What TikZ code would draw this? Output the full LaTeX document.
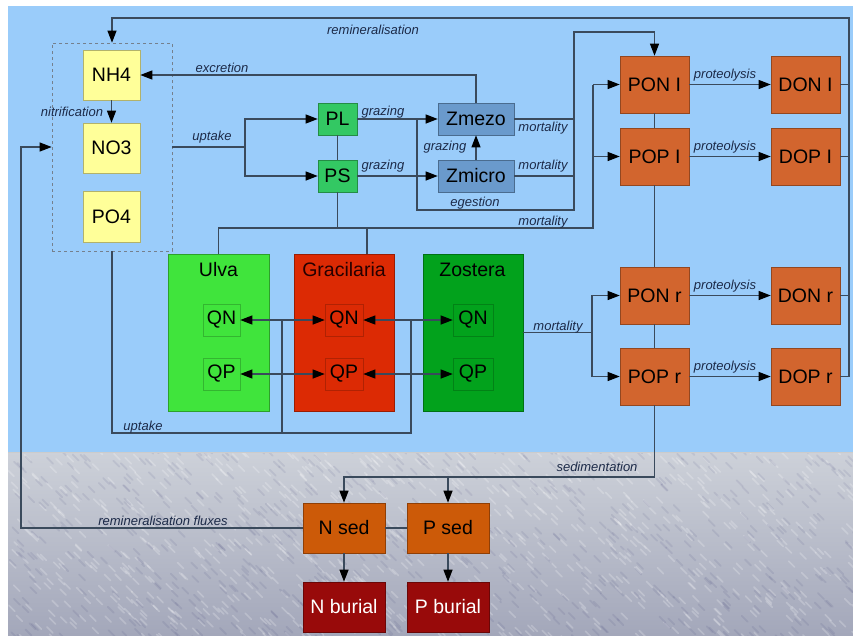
\documentclass[tikz,border=0pt]{standalone}
\usepackage{fontspec}
\setmainfont{Liberation Sans}
\usetikzlibrary{arrows.meta,calc}
\definecolor{sea}{HTML}{9ACCFA}
\definecolor{sedtop}{HTML}{CDD1D9}
\definecolor{sedbot}{HTML}{A3A7BA}
\definecolor{nutc}{HTML}{FFFF99}
\definecolor{phyc}{HTML}{33C863}
\definecolor{zooc}{HTML}{6A9ACC}
\definecolor{detc}{HTML}{D2652E}
\definecolor{ulvac}{HTML}{40E43C}
\definecolor{gracc}{HTML}{DC2A04}
\definecolor{zostc}{HTML}{02A21C}
\definecolor{sedc}{HTML}{CC5A08}
\definecolor{burc}{HTML}{980A0A}
\definecolor{linec}{HTML}{3A4A5C}
\definecolor{labc}{HTML}{1C2A48}
\begin{document}
\begin{tikzpicture}[x=1pt,y=-1pt,
  bx/.style={draw=#1!70!black, fill=#1, line width=0.6pt, inner sep=0pt,
    font=\fontsize{19.5}{20}\selectfont, text=black, anchor=center},
  qbox/.style={draw=#1!80!black, line width=0.6pt, inner sep=0pt,
    minimum width=38pt, minimum height=32pt,
    font=\fontsize{19.5}{20}\selectfont, text=black},
  lab/.style={font=\fontsize{13}{14}\selectfont\itshape, text=labc, inner sep=0pt},
  con/.style={draw=linec, line width=1.1pt},
  arr/.style={con, -{Triangle[length=12pt,width=9pt,color=black]}}]
\useasboundingbox (0,0) rectangle (853,635);
\fill[white] (0,0) rectangle (853,635);
% water
\fill[sea] (8,6) rectangle (853,452);
% sediment
\begin{scope}
\clip (8,452) rectangle (853,635);
\shade[top color=sedtop, bottom color=sedbot] (8,452) rectangle (853,635);
\pgfmathsetseed{7}
\foreach \i in {1,...,900}{
  \pgfmathsetmacro\xx{8+850*rnd}
  \pgfmathsetmacro\yy{445+195*rnd}
  \draw[white, opacity=0.22, line width=1.6pt, line cap=round] (\xx,\yy) -- ++(6,6);
}
\foreach \i in {1,...,700}{
  \pgfmathsetmacro\xx{8+850*rnd}
  \pgfmathsetmacro\yy{445+195*rnd}
  \draw[black!70!blue, opacity=0.07, line width=1.8pt, line cap=round] (\xx,\yy) -- ++(6,6);
}
\end{scope}
\draw[black!20, line width=0.5pt] (8,452) -- (853,452);

% nutrients
\node[draw=linec!70, dashed, line width=0.7pt, minimum width=120pt, minimum height=208pt, inner sep=0pt] (nut) at (112,147) {};
\node[bx=nutc, minimum width=57pt, minimum height=50pt] (NH4) at (111.5,75) {NH4};
\node[bx=nutc, minimum width=57pt, minimum height=50pt] (NO3) at (111.5,148) {NO3};
\node[bx=nutc, minimum width=57pt, minimum height=51pt] (PO4) at (111.5,216.5) {PO4};
% phyto / zoo
\node[bx=phyc, minimum width=39pt, minimum height=32pt] (PL) at (337.5,119) {PL};
\node[bx=phyc, minimum width=39pt, minimum height=32pt] (PS) at (337.5,176) {PS};
\node[bx=zooc, minimum width=76pt, minimum height=32pt] (Zmezo) at (476,119) {Zmezo};
\node[bx=zooc, minimum width=76pt, minimum height=32pt] (Zmicro) at (476,176) {Zmicro};
% detritus
\foreach \n/\t/\x/\y in {PONI/PON I/654.5/84.5, POPI/POP I/654.5/156.5, DONI/DON I/805.5/84.5, DOPI/DOP I/805.5/156.5,
  PONr/PON r/654.5/295.5, POPr/POP r/654.5/376.5, DONr/DON r/805.5/295.5, DOPr/DOP r/805.5/376.5}{
  \node[bx=detc, minimum width=69pt, minimum height=57pt] (\n) at (\x,\y) {\t};
}
% macroalgae
\node[bx=ulvac, minimum width=101pt, minimum height=157pt] (Ulva) at (218.5,332.5) {};
\node[bx=gracc, minimum width=100pt, minimum height=157pt] (Grac) at (344,332.5) {};
\node[bx=zostc, minimum width=100pt, minimum height=157pt] (Zost) at (473,332.5) {};
\node[font=\fontsize{19.5}{20}\selectfont] (UlvaT) at (218.5,270) {Ulva};
\node[font=\fontsize{19.5}{20}\selectfont, text=black!85!red] (GracT) at (344,270) {Gracilaria};
\node[font=\fontsize{19.5}{20}\selectfont] (ZostT) at (472.5,270) {Zostera};
\node[qbox=ulvac, minimum width=37pt] (UQN) at (221.5,320) {QN};
\node[qbox=ulvac, minimum width=37pt] (UQP) at (221.5,374) {QP};
\node[qbox=gracc] (GQN) at (344,320) {QN};
\node[qbox=gracc] (GQP) at (344,374) {QP};
\node[qbox=zostc, minimum width=40pt] (ZQN) at (473,320) {QN};
\node[qbox=zostc, minimum width=40pt] (ZQP) at (473,374) {QP};
% sediment boxes
\node[bx=sedc, minimum width=82pt, minimum height=50pt] (Nsed) at (344,528) {N sed};
\node[bx=sedc, minimum width=82pt, minimum height=50pt] (Psed) at (448,528) {P sed};
\node[bx=burc, minimum width=82pt, minimum height=50pt, text=white] (Nbur) at (344,607) {N burial};
\node[bx=burc, minimum width=82pt, minimum height=50pt, text=white] (Pbur) at (448,607) {P burial};

% coordinates
\coordinate (rtop) at (849,18);
\coordinate (uj) at (245,147);
\coordinate (eg1) at (417,119);
\coordinate (egc) at (574,210);
\coordinate (mx) at (574,32);
\coordinate (m1) at (218.5,228);
\coordinate (m2) at (593,228);
\coordinate (zm) at (592,332.5);
\coordinate (u1) at (282,433);
\coordinate (u2) at (411,433);
\coordinate (sd) at (654.5,477);
\coordinate (lf) at (21,528);
\coordinate (lf2) at (21,147);

% remineralisation loop
\draw[arr] (DOPr.east) -- (DOPr.east -| rtop) -- (rtop) -| (nut.north);
\draw[con] (DONr.east) -- (DONr.east -| rtop);
\draw[con] (DOPI.east) -- (DOPI.east -| rtop);
\draw[con] (DONI.east) -- (DONI.east -| rtop);
% excretion
\draw[arr] (Zmezo.north) |- (NH4.east);
% nitrification
\draw[arr] (NH4.south) -- (NO3.north);
% uptake phyto
\draw[con] (nut.east) -- (uj);
\draw[arr] (uj) |- (PL.west);
\draw[arr] (uj) |- (PS.west);
\draw[con] (PL.south) -- (PS.north);
% grazing
\draw[arr] (PL.east) -- (Zmezo.west);
\draw[arr] (PS.east) -- (Zmicro.west);
\draw[arr] (Zmicro.north) -- (Zmezo.south);
% egestion
\draw[arr] (eg1) |- (egc) -- (mx) -| (PONI.north);
\draw[con] (Zmezo.east) -- (Zmezo.east -| mx);
\draw[con] (Zmicro.east) -- (Zmicro.east -| mx);
% phyto / macroalgae mortality
\draw[con] (PS.south) -- (PS.south |- m1);
\draw[con] (Ulva.north) -- (m1) -- (m2) -- (m2 |- PONI.west);
\draw[con] ([xshift=23pt]Grac.north) -- ([xshift=23pt]Grac.north |- m1);
\draw[arr] (m2 |- PONI.west) -- (PONI.west);
\draw[arr] (m2 |- POPI.west) -- (POPI.west);
% detritus column
\draw[con] (PONI.south) -- (POPI.north);
\draw[con] (POPI.south) -- (PONr.north);
\draw[con] (PONr.south) -- (POPr.north);
% proteolysis
\draw[arr] (PONI.east) -- (DONI.west);
\draw[arr] (POPI.east) -- (DOPI.west);
\draw[arr] (PONr.east) -- (DONr.west);
\draw[arr] (POPr.east) -- (DOPr.west);
% zostera mortality
\draw[con] (Zost.east) -- (zm);
\draw[arr] (zm) |- (PONr.west);
\draw[arr] (zm) |- (POPr.west);
% macroalgae uptake
\draw[con] (nut.south) |- (u2) -- (u2 |- GQN.east);
\draw[con] (u1) -- (u1 |- UQN.east);
\draw[arr] (u1 |- UQN.east) -- (UQN.east);
\draw[arr] (u1 |- GQN.west) -- (GQN.west);
\draw[arr] (u1 |- UQP.east) -- (UQP.east);
\draw[arr] (u1 |- GQP.west) -- (GQP.west);
\draw[arr] (u2 |- GQN.east) -- (GQN.east);
\draw[arr] (u2 |- ZQN.west) -- (ZQN.west);
\draw[arr] (u2 |- GQP.east) -- (GQP.east);
\draw[arr] (u2 |- ZQP.west) -- (ZQP.west);
% sedimentation
\draw[arr] (POPr.south) -- (sd) -| (Nsed.north);
\draw[arr] (Psed.north |- sd) -- (Psed.north);
\draw[con] (Nsed.east) -- (Psed.west);
\draw[arr] (Nsed.south) -- (Nbur.north);
\draw[arr] (Psed.south) -- (Pbur.north);
% remineralisation fluxes
\draw[arr] (Nsed.west) -- (lf) -- (lf2) -- (nut.west);

% labels
\node[lab] (l1) at (373,30) {remineralisation};
\node[lab] (l2) at (222,68) {excretion};
\node[lab] (l3) at (72,112) {nitrification};
\node[lab] (l4) at (212,137) {uptake};
\node[lab] (l5) at (383,112) {grazing};
\node[lab] (l6) at (383,166) {grazing};
\node[lab] (l7) at (445,147) {grazing};
\node[lab] (l8) at (543,128) {mortality};
\node[lab] (l9) at (543,166) {mortality};
\node[lab] (l10) at (543,222) {mortality};
\node[lab] (l11) at (475,203) {egestion};
\node[lab] (l12) at (725,75) {proteolysis};
\node[lab] (l13) at (725,147) {proteolysis};
\node[lab] (l14) at (725,286) {proteolysis};
\node[lab] (l15) at (725,367) {proteolysis};
\node[lab] (l16) at (558,327) {mortality};
\node[lab] (l17) at (143,427) {uptake};
\node[lab] (l18) at (163,521) {remineralisation fluxes};
\node[lab] (l19) at (597,467) {sedimentation};
\end{tikzpicture}
\end{document}
